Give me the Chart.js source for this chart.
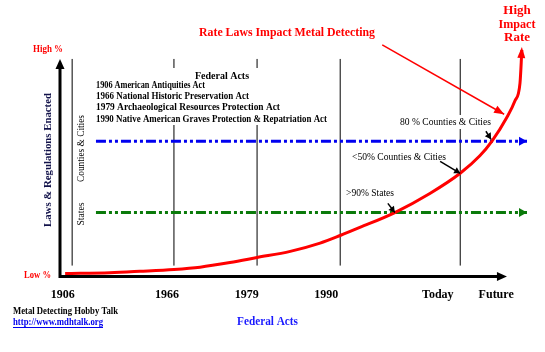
<!DOCTYPE html>
<html>
<head>
<meta charset="utf-8">
<script src="https://cdn.jsdelivr.net/npm/chart.js@4.4.1/dist/chart.umd.min.js"></script>
<style>
  html, body { margin: 0; padding: 0; background: #fff; }
  #wrap { width: 545px; height: 352px; }
</style>
</head>
<body>
<div id="wrap"><canvas id="chart"></canvas></div>
<script>
// x: timeline position (0 = vertical axis), y: impact level (0 = Low %, 100 = High)
const tickLabels = ['1906', '1966', '1979', '1990', 'Today', 'Future'];
const tickPositions = [0.6, 22.9, 40.0, 57.0, 80.9, 93.4];
const eraLines = [2.6, 24.4, 42.2, 60.0, 85.7];
const eraSpan = [4.8, 94.8];

const curveX = [1.1, 10.7, 17.1, 24.4, 30.0, 36.4, 42.2, 49.3, 55.7, 60.0, 64.2, 71.7, 79.2, 85.7, 89.9, 92.5, 95.7, 97.4, 98.5, 98.9];
const curveY = [1.3, 1.7, 2.3, 3.1, 4.1, 6.1, 8.3, 11.0, 14.6, 17.9, 21.4, 27.9, 36.2, 45.0, 52.6, 59.0, 69.4, 76.5, 84.3, 98.7];

const countiesLevel = 59.0;
const statesLevel = 27.9;
const levelSpan = [7.7, 100];

const axisEnd = { x: 95.7, y: 94.8 };

const federalActs = [
  '1906 American Antiquities Act',
  '1966 National Historic Preservation Act',
  '1979 Archaeological Resources Protection Act',
  '1990 Native American Graves Protection & Repatriation Act'
];

// pointer arrows: [fromX, fromY, toX, toY]
const pointers = [
  [91.2, 63.3, 92.3, 59.8],
  [81.4, 50.2, 85.7, 45.0],
  [70.2, 31.9, 71.7, 27.9]
];
const titleArrow = [69.0, 100.9, 95.1, 70.7];

const serif = '"Liberation Serif", "Times New Roman", serif';

function arrowHead(ctx, x0, y0, x1, y1, len, half, color) {
  const a = Math.atan2(y1 - y0, x1 - x0);
  const c = Math.cos(a), s = Math.sin(a);
  ctx.save();
  ctx.fillStyle = color;
  ctx.beginPath();
  ctx.moveTo(x1, y1);
  ctx.lineTo(x1 - len * c + half * s, y1 - len * s - half * c);
  ctx.lineTo(x1 - len * c - half * s, y1 - len * s + half * c);
  ctx.closePath();
  ctx.fill();
  ctx.restore();
}

function text(ctx, str, x, y, font, color, width, align) {
  ctx.font = font;
  ctx.fillStyle = color;
  ctx.textAlign = align || 'left';
  ctx.textBaseline = 'middle';
  if (width) ctx.fillText(str, x, y, width); else ctx.fillText(str, x, y);
}

const decor = {
  id: 'decor',
  afterDatasetsDraw(chart) {
    const ctx = chart.ctx;
    const X = v => chart.scales.x.getPixelForValue(v);
    const Y = v => chart.scales.y.getPixelForValue(v);
    ctx.save();

    // axes
    ctx.strokeStyle = '#000';
    ctx.lineWidth = 3;
    ctx.beginPath();
    ctx.moveTo(X(0), Y(axisEnd.y) + 8);
    ctx.lineTo(X(0), Y(0));
    ctx.lineTo(X(axisEnd.x) - 8, Y(0));
    ctx.stroke();
    arrowHead(ctx, X(0), Y(0), X(0), Y(axisEnd.y), 10, 4.5, '#000');
    arrowHead(ctx, X(0), Y(0), X(axisEnd.x), Y(0), 10, 4.5, '#000');

    // level arrows
    arrowHead(ctx, X(levelSpan[0]), Y(countiesLevel), X(levelSpan[1]), Y(countiesLevel), 8, 4.5, '#0000f0');
    arrowHead(ctx, X(levelSpan[0]), Y(statesLevel), X(levelSpan[1]), Y(statesLevel), 8, 4.5, '#0a7a0a');

    // curve arrow tip
    const n = curveX.length;
    arrowHead(ctx, X(curveX[n - 2]), Y(curveY[n - 2]), X(curveX[n - 1]), Y(curveY[n - 1]) - 3, 11, 4, '#ff0000');

    // title pointer
    ctx.strokeStyle = '#ff0000';
    ctx.lineWidth = 1.5;
    ctx.beginPath();
    ctx.moveTo(X(titleArrow[0]), Y(titleArrow[1]));
    ctx.lineTo(X(titleArrow[2]), Y(titleArrow[3]));
    ctx.stroke();
    arrowHead(ctx, X(titleArrow[0]), Y(titleArrow[1]), X(titleArrow[2]), Y(titleArrow[3]), 10, 4, '#ff0000');

    // small pointers
    ctx.strokeStyle = '#000';
    ctx.lineWidth = 1.5;
    pointers.forEach(p => {
      ctx.beginPath();
      ctx.moveTo(X(p[0]), Y(p[1]));
      ctx.lineTo(X(p[2]), Y(p[3]));
      ctx.stroke();
      arrowHead(ctx, X(p[0]), Y(p[1]), X(p[2]), Y(p[3]), 6, 3.5, '#000');
    });

    // white boxes behind text
    ctx.fillStyle = '#fff';
    ctx.fillRect(94, 68, 236, 57);
    ctx.fillRect(398, 115, 95, 14);

    const red = '#ff0000';
    text(ctx, 'Rate Laws Impact Metal Detecting', 199, 33, 'bold 13px ' + serif, red, 176);
    text(ctx, 'High', 517, 11, 'bold 13px ' + serif, red, null, 'center');
    text(ctx, 'Impact', 517, 24.5, 'bold 13px ' + serif, red, 37, 'center');
    text(ctx, 'Rate', 517, 38, 'bold 13px ' + serif, red, null, 'center');
    text(ctx, 'High %', 33, 49, 'bold 10px ' + serif, red, 30);
    text(ctx, 'Low %', 24, 275, 'bold 10px ' + serif, red, 27);

    text(ctx, 'Federal Acts', 222, 76, 'bold 10px ' + serif, '#000', 61, 'center');
    const widths = [109, 153, 184, 231];
    federalActs.forEach((a, i) => {
      text(ctx, a, 96, 85.5 + i * 11.2, 'bold 10px ' + serif, '#000', widths[i]);
    });

    text(ctx, '80 % Counties & Cities', 400, 122, '10px ' + serif, '#000', 91);
    text(ctx, '<50% Counties & Cities', 352, 157, '10px ' + serif, '#000', 94);
    text(ctx, '>90% States', 346, 193, '10px ' + serif, '#000', 48);

    // rotated labels
    ctx.save();
    ctx.translate(48, 160);
    ctx.rotate(-Math.PI / 2);
    text(ctx, 'Laws & Regulations Enacted', 0, 0, 'bold 11px ' + serif, '#12124a', 134, 'center');
    ctx.restore();
    ctx.save();
    ctx.translate(81, 148.5);
    ctx.rotate(-Math.PI / 2);
    text(ctx, 'Counties & Cities', 0, 0, '10px ' + serif, '#000', 67, 'center');
    ctx.restore();
    ctx.save();
    ctx.translate(81, 214);
    ctx.rotate(-Math.PI / 2);
    text(ctx, 'States', 0, 0, '10px ' + serif, '#000', 23, 'center');
    ctx.restore();

    // footer
    text(ctx, 'Metal Detecting Hobby Talk', 13, 311, 'bold 10px ' + serif, '#000', 105);
    text(ctx, 'http://www.mdhtalk.org', 13, 322, 'bold 10px ' + serif, '#0000ee', 90);
    ctx.strokeStyle = '#0000ee';
    ctx.lineWidth = 1;
    ctx.beginPath();
    ctx.moveTo(13, 327.5);
    ctx.lineTo(103, 327.5);
    ctx.stroke();
    text(ctx, 'Federal Acts', 237, 322, 'bold 13px ' + serif, '#1a1aff', 61);

    ctx.restore();
  }
};

const datasets = [
  {
    data: curveX.map((x, i) => ({ x: x, y: curveY[i] })),
    showLine: true,
    borderColor: '#ff0000',
    borderWidth: 3,
    pointRadius: 0,
    cubicInterpolationMode: 'monotone',
    clip: false
  },
  {
    data: levelSpan.map(x => ({ x: x, y: countiesLevel })),
    showLine: true,
    borderColor: '#0000f0',
    borderWidth: 3,
    borderDash: [10, 3, 3, 3, 3, 3],
    pointRadius: 0,
    clip: false
  },
  {
    data: levelSpan.map(x => ({ x: x, y: statesLevel })),
    showLine: true,
    borderColor: '#0a7a0a',
    borderWidth: 3,
    borderDash: [10, 3, 3, 3, 3, 3],
    pointRadius: 0,
    clip: false
  }
].concat(eraLines.map(x => ({
  data: eraSpan.map(y => ({ x: x, y: y })),
  showLine: true,
  borderColor: '#000',
  borderWidth: 1,
  pointRadius: 0,
  clip: false
})));

new Chart(document.getElementById('chart'), {
  type: 'scatter',
  data: { datasets: datasets },
  options: {
    responsive: true,
    maintainAspectRatio: false,
    animation: false,
    layout: { padding: { left: 60, right: 18, top: 47, bottom: 39 } },
    plugins: { legend: { display: false }, tooltip: { enabled: false } },
    scales: {
      x: {
        min: 0,
        max: 100,
        grid: { display: false, drawTicks: false },
        border: { display: false },
        afterBuildTicks: axis => { axis.ticks = tickPositions.map(v => ({ value: v })); },
        ticks: {
          padding: 11,
          autoSkip: false,
          maxRotation: 0,
          color: '#000',
          font: { family: serif, size: 12, weight: 'bold' },
          callback: (v, i) => tickLabels[i]
        }
      },
      y: { display: false, min: 0, max: 100 }
    }
  },
  plugins: [decor]
});
</script>
</body>
</html>
